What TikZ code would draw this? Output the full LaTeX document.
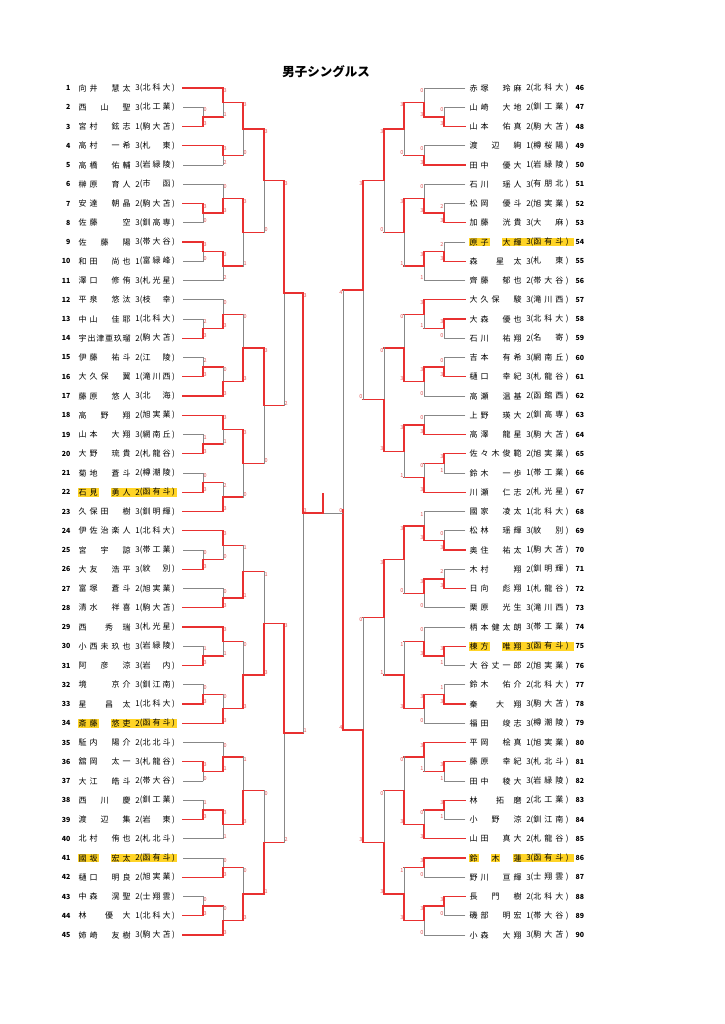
\documentclass[tikz,border=0pt]{standalone}
\usepackage{fontspec}
\setmainfont{Noto Sans CJK JP}
\usetikzlibrary{calc}

\newlength{\du}
\setlength{\du}{1pt}

\definecolor{winred}{RGB}{232,48,48}
\definecolor{losegray}{RGB}{135,135,135}
\definecolor{scorered}{RGB}{226,86,86}
\definecolor{markyellow}{RGB}{255,212,38}

\ExplSyntaxOn
\NewDocumentCommand{\spreadbox}{mm}
 {\makebox[#1][l]{\tl_map_inline:nn {#2} {##1\hfill}\skip_horizontal:n {0pt~plus~-1fill}}}
\ExplSyntaxOff

\tikzset{
  won/.style={draw=winred, line width=1.3pt, line cap=rect},
  lost/.style={draw=losegray, line width=0.9pt, line cap=rect},
  entry/.style={inner sep=0pt, font=\fontsize{8}{8}\selectfont},
  seed/.style={inner sep=0pt, font=\fontsize{7}{7}\selectfont\bfseries},
  scL/.style={anchor=west, xshift=0.5pt, inner sep=0pt, text=scorered, font=\fontsize{5.5}{5.5}\selectfont},
  scR/.style={anchor=east, xshift=-0.5pt, inner sep=0pt, text=scorered, font=\fontsize{5.5}{5.5}\selectfont},
  marker/.style={fill=markyellow},
}

% left entry: number, first x, style, name, grade, school
\newcommand{\lplayer}[6]{%
  \pgfmathsetmacro{\rowy}{88+(#1-1)*19.25}
  \coordinate (e#1) at (183,\rowy);
  \coordinate (p#1) at (#2,\rowy);
  \node[seed, anchor=east] (n#1) at (70.5,\rowy) {#1};
  \node[entry, anchor=west] (t#1) at (78.5,\rowy) {\spreadbox{52pt}{#4}};
  \node[entry] (g#1) at (137.7,\rowy) {#5};
  \node[entry, anchor=west] (s#1) at (139.6,\rowy) {(\spreadbox{28pt}{#6}\kern1.5pt)};
  \draw[#3] (e#1) -- (p#1);
}
% right entry
\newcommand{\rplayer}[6]{%
  \pgfmathsetmacro{\rowy}{88+(#1-46)*19.25}
  \coordinate (e#1) at (465,\rowy);
  \coordinate (p#1) at (#2,\rowy);
  \node[seed, anchor=west] (n#1) at (575.5,\rowy) {#1};
  \node[entry, anchor=west] (t#1) at (469.5,\rowy) {\spreadbox{52pt}{#4}};
  \node[entry] (g#1) at (528.5,\rowy) {#5};
  \node[entry, anchor=west] (s#1) at (530.5,\rowy) {(\spreadbox{30pt}{#6}\kern2.5pt)};
  \draw[#3] (e#1) -- (p#1);
}
% highlight behind a row
\newcommand{\hlbar}[3]{%
  \pgfmathsetmacro{\rowy}{88+mod(#1-1,45)*19.25}
  \fill[marker] (#2,\rowy-4.4) rectangle (#3,\rowy+4.4);
}
% match: name, x, top, bottom, top style, bottom style, top score, bottom score, label style
\newcommand{\bout}[9]{%
  \coordinate (#1c) at ($(#3)!0.5!(#4)$);
  \coordinate (#1) at (#2,0 |- #1c);
  \draw[won] (#3) -- (#3 -| #1);
  \draw[won] (#4) -- (#4 -| #1);
  \draw[#5] (#3 -| #1) -- (#1);
  \draw[#6] (#4 -| #1) -- (#1);
  \node[#9] (#1t) at ($(#3 -| #1)+(0,2.6)$) {#7};
  \node[#9] (#1b) at ($(#4 -| #1)+(0,-2.6)$) {#8};
}

\begin{document}
\begin{tikzpicture}[x=\du, y=-\du]
\useasboundingbox (0,0) rectangle (724,1024);

\node[font=\fontsize{12.5}{12.5}\selectfont\bfseries] (title) at (326,72) {男子シングルス};

% highlighted rows
\hlbar{22}{78}{98.5} \hlbar{22}{111}{177}
\hlbar{34}{78}{98.5} \hlbar{34}{111}{177}
\hlbar{41}{78}{98.5} \hlbar{41}{111}{177}
\hlbar{54}{469}{489.5} \hlbar{54}{502}{574}
\hlbar{75}{469}{489.5} \hlbar{75}{502}{574}
\hlbar{86}{469}{478.5} \hlbar{86}{491}{500} \hlbar{86}{513}{574}

% left entries
\lplayer{1}{223}{won}{向井　慧太}{3}{北科大}
\lplayer{2}{203}{lost}{西　山　聖}{3}{北工業}
\lplayer{3}{203}{won}{宮村　鉉志}{1}{駒大苫}
\lplayer{4}{223}{won}{高村　一希}{3}{札　東}
\lplayer{5}{223}{lost}{高橋　佑輔}{3}{岩緑陵}
\lplayer{6}{223}{lost}{榊原　育人}{2}{市　函}
\lplayer{7}{203}{won}{安達　朝晶}{2}{駒大苫}
\lplayer{8}{203}{lost}{佐藤　　空}{3}{釧高専}
\lplayer{9}{203}{won}{佐　藤　陽}{3}{帯大谷}
\lplayer{10}{203}{lost}{和田　尚也}{1}{富緑峰}
\lplayer{11}{223}{lost}{澤口　修侑}{3}{札光星}
\lplayer{12}{223}{lost}{平泉　悠汰}{3}{枝　幸}
\lplayer{13}{203}{lost}{中山　佳耶}{1}{北科大}
\lplayer{14}{203}{won}{宇出津亜玖瑠}{2}{駒大苫}
\lplayer{15}{203}{lost}{伊藤　祐斗}{2}{江　陵}
\lplayer{16}{203}{won}{大久保　翼}{1}{滝川西}
\lplayer{17}{223}{won}{藤原　悠人}{3}{北　海}
\lplayer{18}{223}{won}{高　野　翔}{2}{旭実業}
\lplayer{19}{203}{lost}{山本　大翔}{3}{網南丘}
\lplayer{20}{203}{won}{大野　琉貴}{2}{札龍谷}
\lplayer{21}{203}{lost}{菊地　蒼斗}{2}{樽潮陵}
\lplayer{22}{203}{won}{石見　勇人}{2}{函有斗}
\lplayer{23}{223}{won}{久保田　樹}{3}{釧明輝}
\lplayer{24}{223}{won}{伊佐治楽人}{1}{北科大}
\lplayer{25}{203}{lost}{宮　宇　諒}{3}{帯工業}
\lplayer{26}{203}{won}{大友　浩平}{3}{紋　別}
\lplayer{27}{223}{lost}{富塚　蒼斗}{2}{旭実業}
\lplayer{28}{223}{won}{清水　祥喜}{1}{駒大苫}
\lplayer{29}{223}{won}{西　　秀　瑞}{3}{札光星}
\lplayer{30}{203}{lost}{小西未玖也}{3}{岩緑陵}
\lplayer{31}{203}{won}{阿　彦　涼}{3}{岩　内}
\lplayer{32}{203}{lost}{境　　京介}{3}{釧江南}
\lplayer{33}{203}{won}{星　　昌　太}{1}{北科大}
\lplayer{34}{223}{won}{斎藤　悠吏}{2}{函有斗}
\lplayer{35}{223}{lost}{駈内　陽介}{2}{北北斗}
\lplayer{36}{203}{won}{舘岡　太一}{3}{札龍谷}
\lplayer{37}{203}{lost}{大江　皓斗}{2}{帯大谷}
\lplayer{38}{203}{lost}{西　川　慶}{2}{釧工業}
\lplayer{39}{203}{won}{渡　辺　集}{2}{岩　東}
\lplayer{40}{223}{lost}{北村　侑也}{2}{札北斗}
\lplayer{41}{223}{lost}{國坂　宏太}{2}{函有斗}
\lplayer{42}{223}{won}{樋口　明良}{2}{旭実業}
\lplayer{43}{203}{lost}{中森　滉聖}{2}{士翔雲}
\lplayer{44}{203}{won}{林　　優　大}{1}{北科大}
\lplayer{45}{223}{won}{姉崎　友樹}{3}{駒大苫}

% right entries
\rplayer{46}{424}{lost}{赤塚　玲麻}{2}{北科大}
\rplayer{47}{444}{lost}{山崎　大地}{2}{釧工業}
\rplayer{48}{444}{won}{山本　佑真}{2}{駒大苫}
\rplayer{49}{424}{lost}{渡　辺　絢}{1}{樽桜陽}
\rplayer{50}{424}{won}{田中　優大}{1}{岩緑陵}
\rplayer{51}{424}{lost}{石川　瑶人}{3}{有朋北}
\rplayer{52}{444}{lost}{松岡　優斗}{2}{旭実業}
\rplayer{53}{444}{won}{加藤　洸貴}{3}{大　麻}
\rplayer{54}{444}{lost}{原子　大輝}{3}{函有斗}
\rplayer{55}{444}{won}{森　　星　太}{3}{札　東}
\rplayer{56}{424}{lost}{齊藤　郁也}{2}{帯大谷}
\rplayer{57}{424}{won}{大久保　駿}{3}{滝川西}
\rplayer{58}{444}{won}{大森　優也}{3}{北科大}
\rplayer{59}{444}{lost}{石川　祐翔}{2}{名　寄}
\rplayer{60}{444}{lost}{吉本　有希}{3}{網南丘}
\rplayer{61}{444}{won}{樋口　幸紀}{3}{札龍谷}
\rplayer{62}{424}{lost}{高瀬　温基}{2}{函館西}
\rplayer{63}{424}{lost}{上野　瑛大}{2}{釧高専}
\rplayer{64}{424}{won}{高澤　龍星}{3}{駒大苫}
\rplayer{65}{444}{won}{佐々木俊範}{2}{旭実業}
\rplayer{66}{444}{lost}{鈴木　一歩}{1}{帯工業}
\rplayer{67}{424}{won}{川瀬　仁志}{2}{札光星}
\rplayer{68}{424}{lost}{國家　凌太}{1}{北科大}
\rplayer{69}{444}{lost}{松林　瑶輝}{3}{紋　別}
\rplayer{70}{444}{won}{奥住　祐太}{1}{駒大苫}
\rplayer{71}{444}{lost}{木村　　翔}{2}{釧明輝}
\rplayer{72}{444}{won}{日向　彪翔}{1}{札龍谷}
\rplayer{73}{424}{lost}{栗原　光生}{3}{滝川西}
\rplayer{74}{424}{lost}{柄本健太朗}{3}{帯工業}
\rplayer{75}{444}{won}{棟方　唯翔}{3}{函有斗}
\rplayer{76}{444}{lost}{大谷丈一郎}{2}{旭実業}
\rplayer{77}{444}{lost}{鈴木　佑介}{2}{北科大}
\rplayer{78}{444}{won}{秦　　大　翔}{3}{駒大苫}
\rplayer{79}{424}{lost}{福田　竣志}{3}{樽潮陵}
\rplayer{80}{424}{won}{平岡　桧真}{1}{旭実業}
\rplayer{81}{444}{won}{藤原　幸紀}{3}{札北斗}
\rplayer{82}{444}{lost}{田中　稜大}{3}{岩緑陵}
\rplayer{83}{444}{won}{林　　拓　磨}{2}{北工業}
\rplayer{84}{444}{lost}{小　野　涼}{2}{釧江南}
\rplayer{85}{424}{won}{山田　真大}{2}{札龍谷}
\rplayer{86}{424}{won}{鈴　木　蓮}{3}{函有斗}
\rplayer{87}{424}{lost}{野川　亘輝}{3}{士翔雲}
\rplayer{88}{444}{won}{長　門　樹}{2}{北科大}
\rplayer{89}{444}{lost}{磯部　明宏}{1}{帯大谷}
\rplayer{90}{424}{lost}{小森　大翔}{3}{駒大苫}

% left bracket
\bout{m2x3}{203}{p2}{p3}{lost}{won}{0}{3}{scL}
\bout{m1x3}{223}{p1}{m2x3}{won}{lost}{3}{1}{scL}
\bout{m4x5}{223}{p4}{p5}{won}{lost}{3}{2}{scL}
\bout{m1x5}{243}{m1x3}{m4x5}{won}{lost}{3}{0}{scL}
\bout{m7x8}{203}{p7}{p8}{won}{lost}{3}{0}{scL}
\bout{m6x8}{223}{p6}{m7x8}{lost}{won}{0}{3}{scL}
\bout{m9x10}{203}{p9}{p10}{won}{lost}{3}{0}{scL}
\bout{m9x11}{223}{m9x10}{p11}{won}{lost}{3}{2}{scL}
\bout{m6x11}{243}{m6x8}{m9x11}{won}{lost}{3}{1}{scL}
\bout{m1x11}{264}{m1x5}{m6x11}{won}{lost}{3}{0}{scL}
\bout{m13x14}{203}{p13}{p14}{lost}{won}{2}{3}{scL}
\bout{m12x14}{223}{p12}{m13x14}{lost}{won}{0}{3}{scL}
\bout{m15x16}{203}{p15}{p16}{lost}{won}{2}{3}{scL}
\bout{m15x17}{223}{m15x16}{p17}{lost}{won}{0}{3}{scL}
\bout{m12x17}{243}{m12x14}{m15x17}{lost}{won}{0}{3}{scL}
\bout{m19x20}{203}{p19}{p20}{lost}{won}{1}{3}{scL}
\bout{m18x20}{223}{p18}{m19x20}{won}{lost}{3}{1}{scL}
\bout{m21x22}{203}{p21}{p22}{lost}{won}{0}{3}{scL}
\bout{m21x23}{223}{m21x22}{p23}{lost}{won}{2}{3}{scL}
\bout{m18x23}{243}{m18x20}{m21x23}{won}{lost}{3}{0}{scL}
\bout{m12x23}{264}{m12x17}{m18x23}{won}{lost}{3}{0}{scL}
\bout{m1x23}{284}{m1x11}{m12x23}{won}{lost}{3}{2}{scL}
\bout{m25x26}{203}{p25}{p26}{lost}{won}{0}{3}{scL}
\bout{m24x26}{223}{p24}{m25x26}{won}{lost}{3}{0}{scL}
\bout{m27x28}{223}{p27}{p28}{lost}{won}{0}{3}{scL}
\bout{m24x28}{243}{m24x26}{m27x28}{lost}{won}{1}{1}{scL}
\bout{m30x31}{203}{p30}{p31}{lost}{won}{1}{3}{scL}
\bout{m29x31}{223}{p29}{m30x31}{won}{lost}{3}{1}{scL}
\bout{m32x33}{203}{p32}{p33}{lost}{won}{0}{3}{scL}
\bout{m32x34}{223}{m32x33}{p34}{lost}{won}{0}{3}{scL}
\bout{m29x34}{243}{m29x31}{m32x34}{lost}{won}{0}{3}{scL}
\bout{m24x34}{264}{m24x28}{m29x34}{lost}{won}{1}{3}{scL}
\bout{m36x37}{203}{p36}{p37}{won}{lost}{3}{0}{scL}
\bout{m35x37}{223}{p35}{m36x37}{lost}{won}{0}{1}{scL}
\bout{m38x39}{203}{p38}{p39}{lost}{won}{1}{3}{scL}
\bout{m38x40}{223}{m38x39}{p40}{won}{lost}{3}{1}{scL}
\bout{m35x40}{243}{m35x37}{m38x40}{lost}{won}{1}{3}{scL}
\bout{m41x42}{223}{p41}{p42}{lost}{won}{0}{3}{scL}
\bout{m43x44}{203}{p43}{p44}{lost}{won}{0}{3}{scL}
\bout{m43x45}{223}{m43x44}{p45}{lost}{won}{0}{3}{scL}
\bout{m41x45}{243}{m41x42}{m43x45}{lost}{won}{0}{3}{scL}
\bout{m35x45}{264}{m35x40}{m41x45}{lost}{won}{0}{1}{scL}
\bout{m24x45}{284}{m24x34}{m35x45}{won}{lost}{3}{2}{scL}
\bout{m1x45}{303}{m1x23}{m24x45}{won}{lost}{3}{1}{scL}

% right bracket
\bout{m47x48}{444}{p47}{p48}{lost}{won}{0}{3}{scR}
\bout{m46x48}{424}{p46}{m47x48}{lost}{won}{0}{3}{scR}
\bout{m49x50}{424}{p49}{p50}{lost}{won}{0}{3}{scR}
\bout{m46x50}{404}{m46x48}{m49x50}{won}{lost}{3}{0}{scR}
\bout{m52x53}{444}{p52}{p53}{lost}{won}{2}{3}{scR}
\bout{m51x53}{424}{p51}{m52x53}{lost}{won}{0}{3}{scR}
\bout{m54x55}{444}{p54}{p55}{lost}{won}{2}{3}{scR}
\bout{m54x56}{424}{m54x55}{p56}{won}{lost}{3}{1}{scR}
\bout{m51x56}{404}{m51x53}{m54x56}{won}{lost}{3}{1}{scR}
\bout{m46x56}{384}{m46x50}{m51x56}{won}{lost}{3}{0}{scR}
\bout{m58x59}{444}{p58}{p59}{won}{lost}{3}{0}{scR}
\bout{m57x59}{424}{p57}{m58x59}{won}{lost}{3}{1}{scR}
\bout{m60x61}{444}{p60}{p61}{lost}{won}{0}{3}{scR}
\bout{m60x62}{424}{m60x61}{p62}{won}{lost}{3}{0}{scR}
\bout{m57x62}{404}{m57x59}{m60x62}{lost}{won}{0}{3}{scR}
\bout{m63x64}{424}{p63}{p64}{lost}{won}{0}{3}{scR}
\bout{m65x66}{444}{p65}{p66}{won}{lost}{3}{1}{scR}
\bout{m65x67}{424}{m65x66}{p67}{lost}{won}{0}{3}{scR}
\bout{m63x67}{404}{m63x64}{m65x67}{won}{lost}{3}{1}{scR}
\bout{m57x67}{384}{m57x62}{m63x67}{lost}{won}{0}{3}{scR}
\bout{m46x67}{363}{m46x56}{m57x67}{won}{lost}{3}{0}{scR}
\bout{m69x70}{444}{p69}{p70}{lost}{won}{0}{3}{scR}
\bout{m68x70}{424}{p68}{m69x70}{lost}{won}{1}{3}{scR}
\bout{m71x72}{444}{p71}{p72}{lost}{won}{2}{3}{scR}
\bout{m71x73}{424}{m71x72}{p73}{won}{lost}{3}{0}{scR}
\bout{m68x73}{404}{m68x70}{m71x73}{won}{lost}{3}{0}{scR}
\bout{m75x76}{444}{p75}{p76}{won}{lost}{3}{1}{scR}
\bout{m74x76}{424}{p74}{m75x76}{lost}{won}{0}{3}{scR}
\bout{m77x78}{444}{p77}{p78}{lost}{won}{1}{3}{scR}
\bout{m77x79}{424}{m77x78}{p79}{won}{lost}{3}{0}{scR}
\bout{m74x79}{404}{m74x76}{m77x79}{lost}{won}{1}{3}{scR}
\bout{m68x79}{384}{m68x73}{m74x79}{won}{lost}{3}{1}{scR}
\bout{m81x82}{444}{p81}{p82}{won}{lost}{3}{1}{scR}
\bout{m80x82}{424}{p80}{m81x82}{won}{lost}{3}{1}{scR}
\bout{m83x84}{444}{p83}{p84}{won}{lost}{3}{1}{scR}
\bout{m83x85}{424}{m83x84}{p85}{lost}{won}{0}{3}{scR}
\bout{m80x85}{404}{m80x82}{m83x85}{lost}{won}{0}{3}{scR}
\bout{m86x87}{424}{p86}{p87}{won}{lost}{3}{0}{scR}
\bout{m88x89}{444}{p88}{p89}{won}{lost}{3}{0}{scR}
\bout{m88x90}{424}{m88x89}{p90}{won}{lost}{3}{0}{scR}
\bout{m86x90}{404}{m86x87}{m88x90}{lost}{won}{1}{3}{scR}
\bout{m80x90}{384}{m80x85}{m86x90}{lost}{won}{0}{3}{scR}
\bout{m68x90}{363}{m68x79}{m80x90}{lost}{won}{0}{3}{scR}
\bout{m46x90}{343}{m46x67}{m68x90}{lost}{won}{4}{4}{scR}

% final
\coordinate (ctr) at (323,0 |- m1x45);
\coordinate (tip) at ($(ctr)+(0,-19)$);
\draw[lost] (ctr) -- (ctr -| m46x90);
\draw[won] (m1x45) -- (ctr);
\draw[won] (ctr) -- (tip);
\node[scL, anchor=south west] (fl) at (m1x45) {3};
\node[scR, anchor=south east] (fr) at (ctr -| m46x90) {0};
\end{tikzpicture}
\end{document}
